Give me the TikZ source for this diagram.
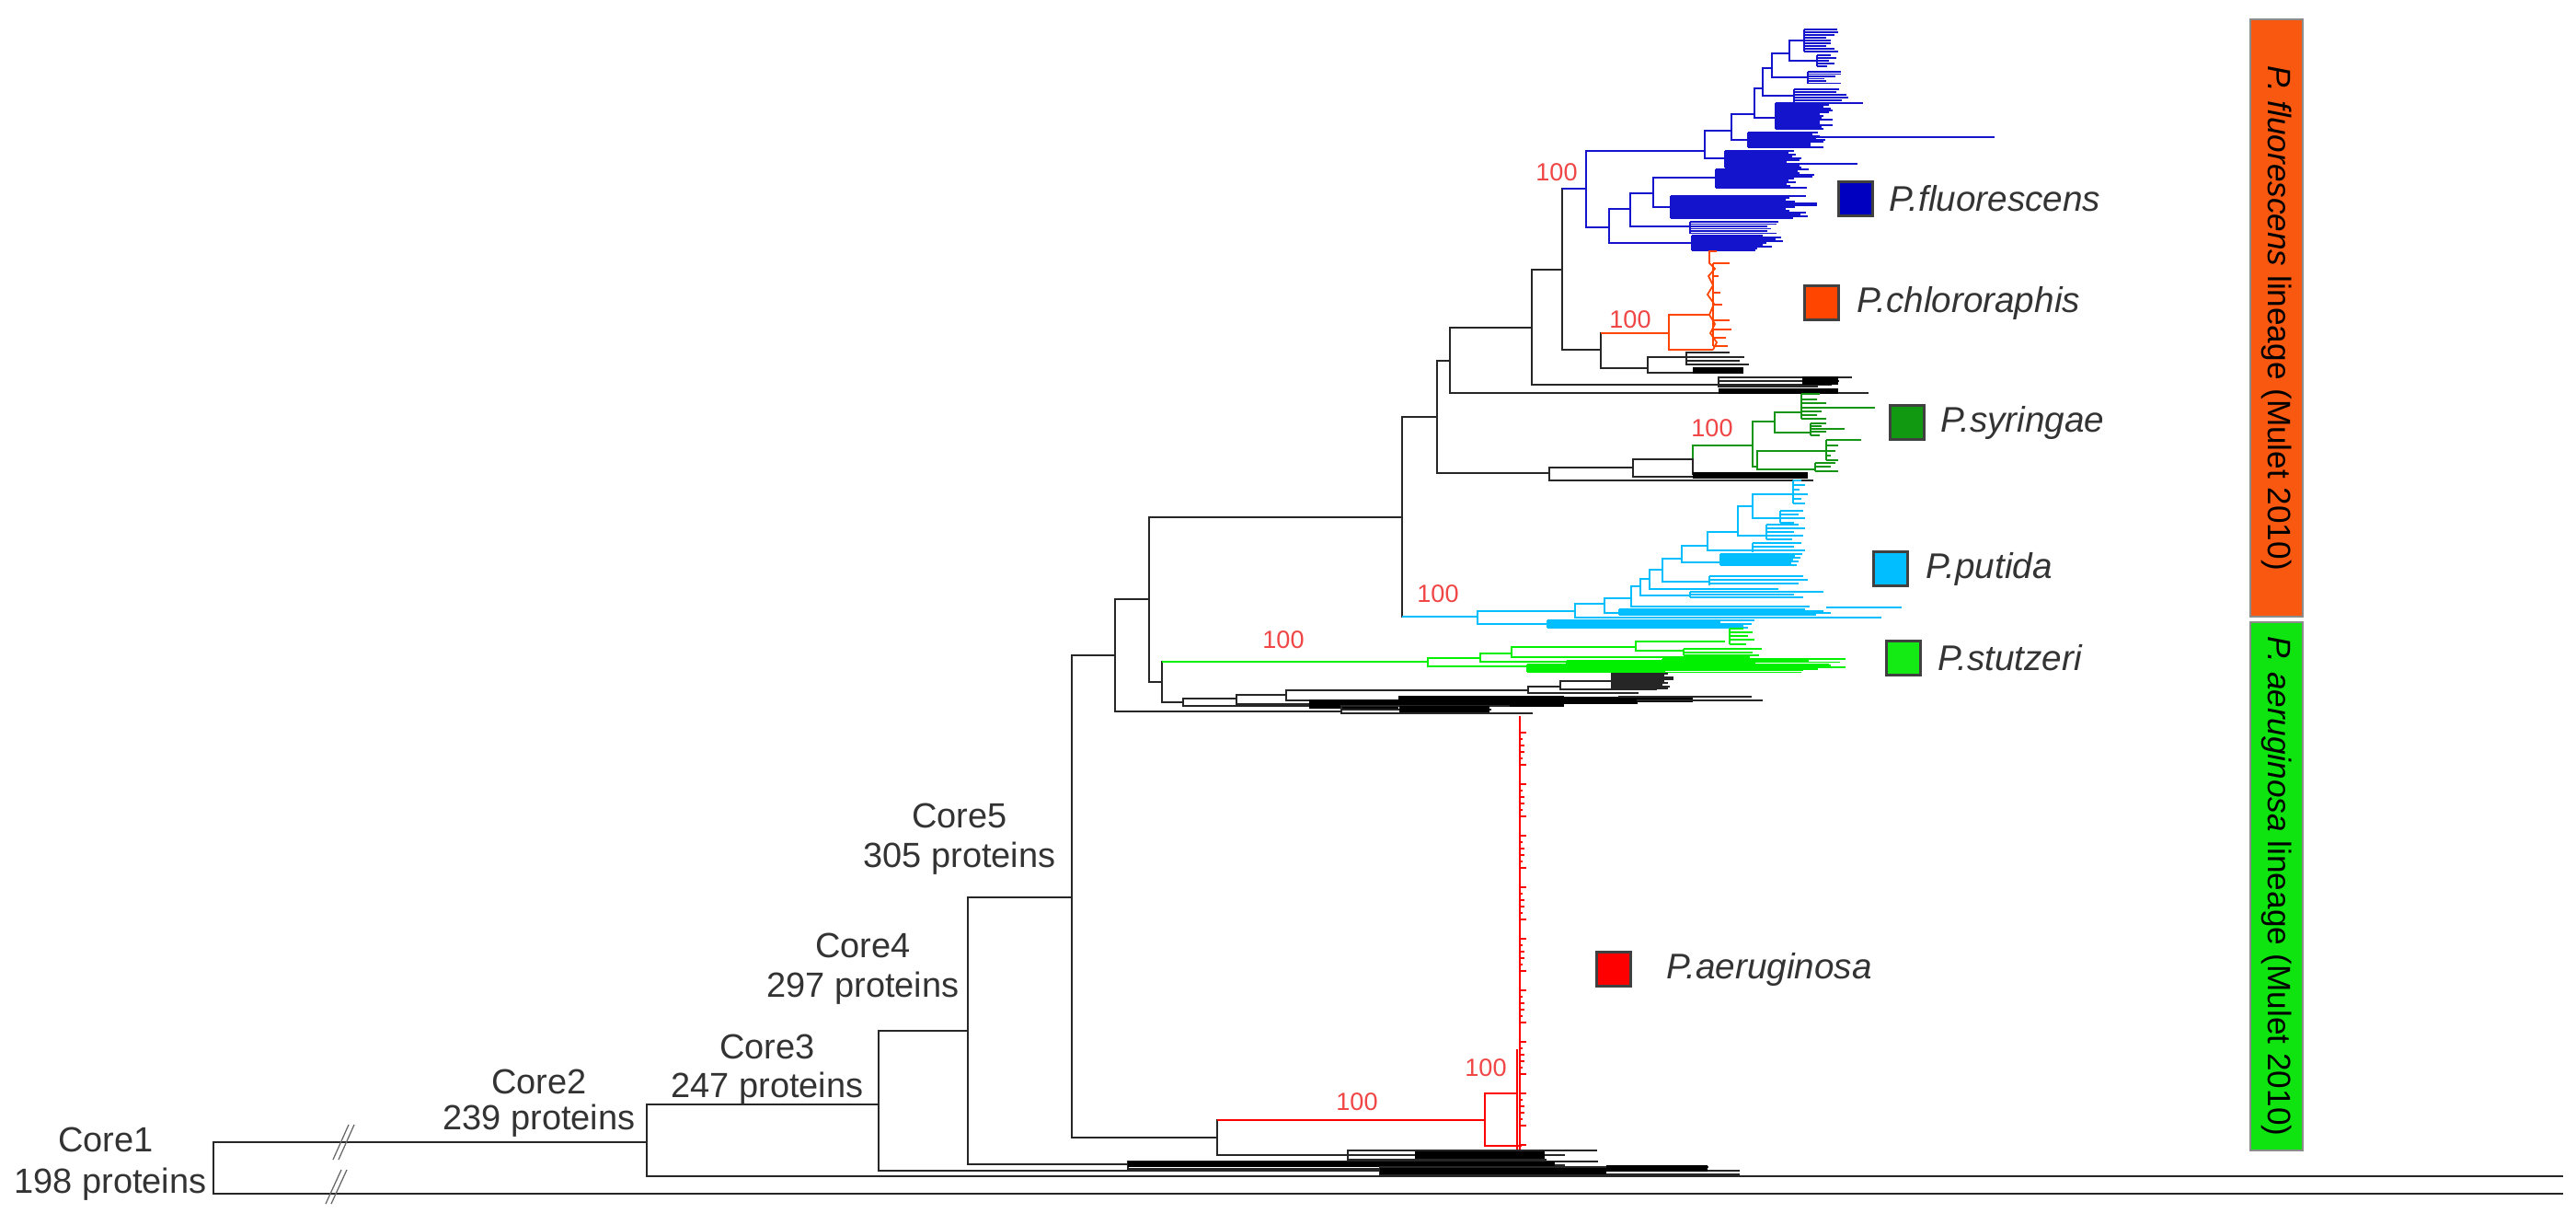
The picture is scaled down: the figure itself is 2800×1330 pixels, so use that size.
\documentclass[tikz,border=0pt]{standalone}
\usepackage{fontspec}
\setmainfont{Liberation Sans}
\usetikzlibrary{positioning}
\definecolor{fluoBlue}{RGB}{20,20,205}
\definecolor{chloOrange}{RGB}{255,69,0}
\definecolor{syriGreen}{RGB}{20,150,20}
\definecolor{putiBlue}{RGB}{0,190,255}
\definecolor{stutGreen}{RGB}{0,240,0}
\definecolor{aeruRed}{RGB}{255,0,0}
\definecolor{bootRed}{RGB}{240,70,70}
\definecolor{barOrange}{RGB}{248,88,16}
\definecolor{barGreen}{RGB}{16,228,16}
\definecolor{boxBlue}{RGB}{0,0,192}
\definecolor{boxGreen}{RGB}{17,153,17}
\definecolor{boxLime}{RGB}{20,235,20}

% tips of a clade: style, x of node, top, bottom, list y/xend
\newcommand{\tipcomb}[5]{%
  \draw[#1] (#2,#3) -- (#2,#4);
  \foreach \cy/\cx in {#5}{\draw[#1] (#2,\cy) -- (\cx,\cy);}
}
% dense tips: style, x, top, count, step, shortest end, spread of the ends
\newcommand{\densetips}[7]{%
  \foreach \k in {0,...,#4}{%
    \pgfmathsetmacro{\cy}{#3+\k*#5}
    \pgfmathsetmacro{\cx}{#6+mod(\k*\k*7+\k*13+#3,#7)}
    \draw[#1] (#2,\cy) -- (\cx,\cy);}
  \draw[#1] (#2,#3) -- (#2,{#3+#4*#5});
}
% black vertical of the parent, coloured branch to the child
\newcommand{\edge}[3]{%
  \draw[br] (#1) -- (#1 |- #2);
  \draw[#3] (#1 |- #2) -- (#2);
}

\tikzset{
  br/.style={line width=0.7pt, black!85, line cap=rect},
  fl/.style={line width=0.5pt, fluoBlue},
  ch/.style={line width=0.5pt, chloOrange},
  sy/.style={line width=0.5pt, syriGreen},
  pu/.style={line width=0.5pt, putiBlue},
  st/.style={line width=0.5pt, stutGreen},
  ae/.style={line width=0.5pt, aeruRed},
  brk/.style={line width=0.35pt, black!60},
  corelab/.style={font=\fontsize{10.8}{13}\selectfont, text=black!80, inner sep=0},
  boot/.style={font=\fontsize{7.7}{9}\selectfont, text=bootRed, inner sep=0},
  spbox/.style={draw=black!75, line width=0.8pt, minimum size=0.37cm, inner sep=0},
  splab/.style={font=\fontsize{11}{13}\selectfont\itshape, text=black!80, inner sep=0, anchor=west},
  lineage/.style={draw=black!45, line width=0.4pt, rotate=-90, minimum height=0.57cm, inner sep=0, font=\fontsize{10}{12}\selectfont},
}

\begin{document}
\begin{tikzpicture}[x=0.01cm, y=-0.01cm]
\fill[white] (0,0) rectangle (2800,1330);
\useasboundingbox (0,0) rectangle (2800,1330);

% backbone nodes
\coordinate (core1) at (232,1269);
\coordinate (core2) at (703,1241);
\coordinate (core3) at (955,1200);
\coordinate (core4) at (1052,1120);
\coordinate (core5) at (1165,975);
\coordinate (nA) at (1212,712);
\coordinate (nB) at (1249,651);
\coordinate (nC) at (1263,741);
\coordinate (nD) at (1524,562);
\coordinate (nE) at (1562,453);
\coordinate (nF) at (1576,392);
\coordinate (nG) at (1665,356);
\coordinate (nH) at (1698,293);
\coordinate (nI) at (1740,380);
\coordinate (fluo) at (1724,205);
\coordinate (chlo) at (1814,362);
\coordinate (syri) at (1684,514);
\coordinate (puti) at (1606,670);
\coordinate (stut) at (1552,719);
\coordinate (aeru) at (1323,1236);
\coordinate (aeA) at (1614,1217);
\coordinate (aeB) at (1649,1188);
\coordinate (endA) at (2785,1297);
\coordinate (endB) at (2785,1278);
\coordinate (endF) at (2030,427);

\draw[br] (core1) |- (core2);  \draw[br] (core1) |- (endA);
\draw[br] (core2) |- (core3);  \draw[br] (core2) |- (endB);
\draw[br] (core3) |- (core4);  \draw[br] (core3) |- (1500,1272);
\draw[br] (core4) |- (core5);  \draw[br] (core4) |- (1226,1265);
\draw[br] (core5) |- (nA);     \draw[br] (core5) |- (aeru);
\draw[br] (nA) |- (nB);        \draw[br] (nA) |- (1458,773);
\draw[br] (nB) |- (nD);        \draw[br] (nB) |- (nC);
\draw[br] (nC) |- (1286,763);  \edge{nC}{stut}{st}
\draw[br] (nD) |- (nE);        \edge{nD}{puti}{pu}
\draw[br] (nE) |- (nF);        \draw[br] (nE) |- (syri);
\draw[br] (nF) |- (nG);        \draw[br] (nF) |- (endF);
\draw[br] (nG) |- (nH);        \draw[br] (nG) |- (1868,418);
\edge{nH}{fluo}{fl}            \draw[br] (nH) |- (nI);
\edge{nI}{chlo}{ch}            \draw[br] (nI) |- (1791,400);
\draw[br] (aeru) |- (1465,1255); \edge{aeru}{aeA}{ae}

% break marks
\draw[brk] (362,1260) -- (379,1222) (368,1260) -- (385,1222);
\draw[brk] (354,1308) -- (371,1271) (360,1308) -- (377,1271);

% P. fluorescens
\draw[fl] (fluo) |- (1853,164);  \draw[fl] (fluo) |- (1749,247);
\draw[fl] (1853,164) |- (1882,142); \draw[fl] (1853,164) |- (1875,172);
\draw[fl] (1882,142) |- (1907,124); \draw[fl] (1882,142) |- (1900,152);
\draw[fl] (1907,124) |- (1916,96);  \draw[fl] (1907,124) |- (1930,128);
\draw[fl] (1916,96) |- (1926,74);   \draw[fl] (1916,96) |- (1950,104);
\draw[fl] (1926,74) |- (1945,58);   \draw[fl] (1926,74) |- (1965,84);
\draw[fl] (1945,58) |- (1961,44);   \draw[fl] (1945,58) |- (1975,66);
\densetips{fl}{1961}{32}{8}{3}{1984}{19}
\densetips{fl}{1975}{60}{4}{3}{1986}{14}
\densetips{fl}{1965}{78}{5}{2.5}{1983}{20}
\densetips{fl}{1950}{97}{5}{3}{1994}{23}
\densetips{fl}{1930}{112}{14}{2}{1976}{20}
\draw[fl] (1930,112) -- (2025,112);
\densetips{fl}{1900}{144}{8}{2}{1962}{26}
\draw[fl] (1900,149) -- (2168,149);
\densetips{fl}{1875}{164}{9}{2}{1942}{26}
\draw[fl] (1875,178) -- (2019,178);
\draw[fl] (1749,247) |- (1772,227); \draw[fl] (1749,247) |- (1839,264);
\draw[fl] (1772,227) |- (1797,210); \draw[fl] (1772,227) |- (1837,246);
\draw[fl] (1797,210) |- (1865,193); \draw[fl] (1797,210) |- (1816,225);
\densetips{fl}{1865}{184}{10}{2}{1942}{32}
\densetips{fl}{1816}{213}{12}{2}{1940}{38}
\densetips{fl}{1837}{241}{5}{2.5}{1912}{22}
\densetips{fl}{1839}{256}{8}{2}{1900}{40}

% P. chlororaphis
\draw[ch] (chlo) |- (1858,342); \draw[ch] (chlo) |- (1862,380);
\draw[ch] (1866,273) -- (1858,273) -- (1858,286) -- (1864,292) -- (1857,300) -- (1862,310)
  -- (1856,320) -- (1863,330) -- (1858,342) -- (1864,352) -- (1859,362) -- (1866,372) -- (1862,380);
\tipcomb{ch}{1862}{286}{376}{286/1880,300/1868,318/1870,331/1872,348/1880,358/1882,367/1876,376/1878}

% black clades below P. chlororaphis
\tipcomb{br}{1791}{388}{405}{388/1833,405/1840}
\tipcomb{br}{1833}{383}{396}{383/1879,388/1895,392/1890,396/1900}
\fill[black] (1840,399) rectangle (1895,406);
\tipcomb{br}{1868}{410}{420}{410/2012,414/1998,418/1990,420/1975}
\fill[black] (1959,409) rectangle (1998,418);
\fill[black] (1868,422) rectangle (1998,428);

% P. syringae
\draw[br] (syri) |- (1775,508); \draw[br] (syri) |- (1970,522);
\draw[br] (1775,508) |- (1940,518);
\draw[br] (1775,508) |- (1840,499);
\draw[sy] (1840,499) -- (1840,484) -- (1905,484);
\draw[br] (1840,499) |- (1956,515);
\fill[black] (1840,513) rectangle (1965,520);
\draw[sy] (1905,484) |- (1929,458); \draw[sy] (1905,484) |- (1910,507);
\draw[sy] (1929,458) |- (1958,448); \draw[sy] (1929,458) |- (1968,470);
\tipcomb{sy}{1958}{428}{455}{428/1978,434/1975,438/1985,443/2038,447/1980,451/1975,455/1985}
\tipcomb{sy}{1968}{460}{473}{460/1985,463/1980,466/2005,469/1985,473/1978}
\draw[sy] (1910,507) |- (1985,490); \draw[sy] (1910,507) |- (1973,510);
\tipcomb{sy}{1985}{478}{500}{478/2023,484/1998,490/1995,495/1990,500/1998}
\tipcomb{sy}{1973}{503}{512}{503/1995,507/1990,512/1998}

% P. putida
\draw[pu] (puti) |- (1712,664); \draw[pu] (puti) |- (1682,678);
\densetips{pu}{1682}{674}{4}{2}{1860}{57}
\draw[pu] (1712,664) |- (1744,656); \draw[pu] (1712,664) |- (2045,671);
\draw[pu] (1744,656) |- (1773,650); \draw[pu] (1744,656) |- (1990,666);
\densetips{pu}{1760}{662}{3}{2}{1960}{30}
\draw[pu] (1985,660) -- (2067,660);
\draw[pu] (1773,650) |- (1783,637); \draw[pu] (1773,650) |- (1967,659);
\draw[pu] (1783,637) |- (1793,629); \draw[pu] (1783,637) |- (1837,647);
\tipcomb{pu}{1837}{643}{649}{643/1982,646/1950,649/1960}
\draw[pu] (1793,629) |- (1807,619); \draw[pu] (1793,629) |- (1933,640);
\draw[pu] (1807,619) |- (1828,607); \draw[pu] (1807,619) |- (1858,632);
\tipcomb{pu}{1858}{626}{636}{626/1960,630/1965,634/1955}
\draw[pu] (1828,607) |- (1856,593); \draw[pu] (1828,607) |- (1870,611);
\densetips{pu}{1870}{602}{6}{2}{1945}{28}
\draw[pu] (1856,593) |- (1889,578); \draw[pu] (1856,593) |- (1905,598);
\tipcomb{pu}{1905}{590}{600}{590/1958,594/1950,598/1962}
\draw[pu] (1889,578) |- (1905,550); \draw[pu] (1889,578) |- (1920,582);
\tipcomb{pu}{1920}{570}{586}{570/1955,574/1962,578/1950,582/1960,586/1948}
\draw[pu] (1905,550) |- (1949,537); \draw[pu] (1905,550) |- (1935,563);
\tipcomb{pu}{1935}{555}{568}{555/1960,559/1955,563/1962,568/1950}
\tipcomb{pu}{1949}{522}{547}{522/1958,527/1962,532/1956,537/1965,542/1958,547/1962}

% P. stutzeri
\draw[st] (stut) |- (1609,715); \draw[st] (stut) |- (1660,724);
\draw[st] (1609,715) |- (1643,710); \draw[st] (1609,715) |- (1703,719);
\draw[st] (1643,710) |- (1778,703); \draw[st] (1643,710) |- (1902,714);
\draw[st] (1778,703) |- (1797,697); \draw[st] (1778,703) |- (1830,707);
\tipcomb{st}{1830}{705}{712}{705/1915,709/1905,712/1912}
\draw[st] (1797,697) -- (1875,697);
\tipcomb{st}{1880}{683}{700}{683/1895,687/1905,691/1900,695/1907,700/1898}
\densetips{st}{1660}{722}{4}{2}{1800}{12}
\densetips{st}{1807}{716}{8}{1.8}{1950}{60}
\densetips{st}{1703}{718}{2}{2}{1890}{30}

% black clades below P. stutzeri
\draw[br] (1286,763) |- (1344,759); \draw[br] (1286,763) |- (1423,767);
\draw[br] (1344,759) |- (1398,755); \draw[br] (1344,759) |- (1500,765);
\draw[br] (1398,755) |- (1661,750); \draw[br] (1398,755) |- (1560,761);
\draw[br] (1661,750) |- (1696,746); \draw[br] (1661,750) |- (1780,753);
\draw[br] (1696,746) |- (1752,740); \draw[br] (1696,746) |- (1800,749);
\densetips{br}{1752}{732}{8}{2}{1800}{24}
\fill[black] (1423,760) rectangle (1520,770);
\fill[black] (1520,756) rectangle (1700,768);
\fill[black] (1700,757) rectangle (1780,765);
\fill[black] (1780,758) rectangle (1840,763);
\draw[br] (1780,761) -- (1915,761);
\draw[br] (1760,757) -- (1903,757);
\tipcomb{br}{1458}{767}{775}{767/1640,771/1620,775/1665}
\fill[black] (1521,767) rectangle (1619,774);

% P. aeruginosa
\draw[ae] (aeA) |- (aeB); \draw[ae] (aeA) |- (1654,1245);
\draw[aeruRed, line width=0.7pt] (1652,778) -- (1652,1250);
\draw[aeruRed, line width=0.7pt] (1649,1140) -- (1649,1250);
\foreach \k in {0,...,66}{%
  \pgfmathsetmacro{\ry}{782+\k*7}
  \pgfmathsetmacro{\rx}{1653+mod(\k*\k*3+\k*5,8)}
  \draw[ae] (1652,\ry) -- (\rx,\ry);}
\tipcomb{br}{1465}{1250}{1260}{1250/1735,1255/1700,1260/1680}
\fill[black] (1538,1251) rectangle (1679,1259);

% black clades at the base
\tipcomb{br}{1226}{1262}{1270}{1262/1736,1266/1700,1270/1650}
\fill[black] (1226,1262) rectangle (1690,1268);
\tipcomb{br}{1500}{1268}{1276}{1268/1856,1272/1890,1276/1890}
\fill[black] (1500,1269) rectangle (1746,1276);
\fill[black] (1746,1266) rectangle (1856,1273);

% core labels
\node[corelab] (lab1a) at (115,1238) {Core1};
\node[corelab] (lab1b) at (120,1287) {198 proteins};
\node[corelab] (lab2a) at (586,1175) {Core2};
\node[corelab] (lab2b) at (586,1218) {239 proteins};
\node[corelab] (lab3a) at (834,1137) {Core3};
\node[corelab] (lab3b) at (834,1183) {247 proteins};
\node[corelab] (lab4a) at (938,1027) {Core4};
\node[corelab] (lab4b) at (938,1074) {297 proteins};
\node[corelab] (lab5a) at (1043,886) {Core5};
\node[corelab] (lab5b) at (1043,933) {305 proteins};

% bootstrap values
\node[boot] (bs1) at (1692,187) {100};
\node[boot] (bs2) at (1772,347) {100};
\node[boot] (bs3) at (1861,465) {100};
\node[boot] (bs4) at (1563,645) {100};
\node[boot] (bs5) at (1395,695) {100};
\node[boot] (bs6) at (1475,1197) {100};
\node[boot] (bs7) at (1615,1160) {100};

% species legend
\node[spbox, fill=boxBlue] (bxFluo) at (2017,216) {};
\node[splab, right=1.6mm of bxFluo] (lbFluo) {P.fluorescens};
\node[spbox, fill=chloOrange] (bxChlo) at (1980,329) {};
\node[splab, right=1.8mm of bxChlo] (lbChlo) {P.chlororaphis};
\node[spbox, fill=boxGreen] (bxSyri) at (2073,459) {};
\node[splab, right=1.6mm of bxSyri] (lbSyri) {P.syringae};
\node[spbox, fill=putiBlue] (bxPuti) at (2055,618) {};
\node[splab, right=1.8mm of bxPuti] (lbPuti) {P.putida};
\node[spbox, fill=boxLime] (bxStut) at (2069,715) {};
\node[splab, right=1.7mm of bxStut] (lbStut) {P.stutzeri};
\node[spbox, fill=aeruRed] (bxAeru) at (1754,1053) {};
\node[splab, right=3.7mm of bxAeru] (lbAeru) {P.aeruginosa};

% lineage bars
\node[lineage, fill=barOrange, minimum width=6.49cm] (barFluo) at (2474.5,345.5) {\textit{P. fluorescens} lineage (Mulet 2010)};
\node[lineage, fill=barGreen, minimum width=5.74cm] (barAeru) at (2474.5,963) {\textit{P. aeruginosa} lineage (Mulet 2010)};
\end{tikzpicture}
\end{document}
